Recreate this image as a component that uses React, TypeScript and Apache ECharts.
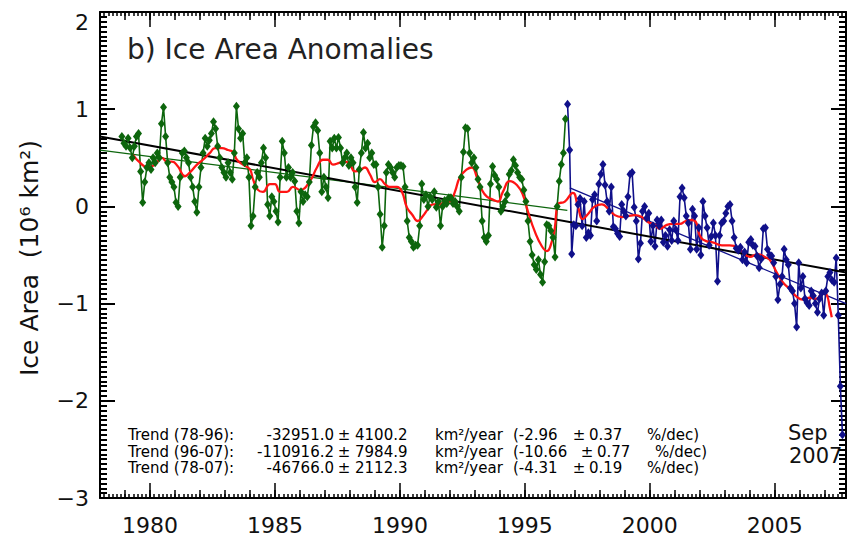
import React, { useEffect, useRef } from "react";
import * as echarts from "echarts";

// ---- data (monthly ice area anomalies, 10^6 km^2) ----
const greenStart = [1978, 11]; // Nov 1978
const green1978 = [0.72, 0.65];
const green1979 = [0.62, 0.7, 0.6, 0.5, 0.62, 0.72, 0.75, 0.36, 0.04, 0.25, 0.4, 0.45];
const green1980 = [0.38, 0.5, 0.45, 0.55, 0.5, 0.85, 1.02, 0.72, 0.45, 0.3, 0.25, 0.2];
const green1981 = [0.04, 0.0, 0.3, 0.55, 0.57, 0.5, 0.45, 0.3, 0.2, 0.05, -0.06, 0.2];
const green1982 = [0.4, 0.55, 0.7, 0.62, 0.68, 0.75, 0.87, 0.8, 0.62, 0.5, 0.4, 0.35];
const green1983 = [0.3, 0.45, 0.35, 0.28, 0.55, 1.03, 0.8, 0.7, 0.75, 0.45, 0.5, 0.3];
const green1984 = [-0.2, -0.1, 0.2, 0.35, 0.3, 0.45, 0.6, 0.5, 0.02, -0.1, 0.1, 0.05];
const green1985 = [-0.05, -0.16, 0.3, 0.67, 0.55, 0.3, 0.4, 0.3, 0.35, 0.26, -0.05, -0.17];
const green1986 = [0.15, 0.05, 0.12, 0.1, 0.25, 0.63, 0.82, 0.86, 0.78, 0.55, 0.15, 0.3];
const green1987 = [0.2, 0.09, 0.67, 0.6, 0.7, 0.6, 0.71, 0.6, 0.45, 0.5, 0.55, 0.42];
const green1988 = [0.5, 0.45, 0.2, 0.04, 0.38, 0.55, 0.76, 0.6, 0.65, 0.5, 0.55, 0.43];
const green1989 = [0.43, 0.2, -0.08, -0.42, -0.2, 0.35, 0.43, 0.4, 0.35, 0.3, 0.4, 0.42];
const green1990 = [0.42, 0.41, 0.2, -0.15, -0.32, -0.36, -0.42, -0.4, -0.4, -0.2, 0.23, 0.07];
const green1991 = [0.12, 0.0, 0.1, 0.07, 0.15, -0.01, 0.05, -0.2, 0.0, 0.06, 0.03, 0.09];
const green1992 = [0.09, 0.03, 0.05, 0.0, -0.05, 0.3, 0.56, 0.81, 0.8, 0.55, 0.45, 0.5];
const green1993 = [0.4, 0.28, 0.2, -0.15, -0.32, -0.36, -0.3, 0.23, 0.41, 0.32, 0.28, 0.2];
const green1994 = [-0.05, 0.0, 0.05, 0.12, 0.33, 0.37, 0.48, 0.42, 0.35, 0.3, 0.28, 0.17];
const green1995 = [0.05, -0.15, -0.36, -0.5, -0.6, -0.65, -0.55, -0.7, -0.78, -0.57, -0.19, -0.2];
const green1996 = [-0.25, -0.32, -0.52, 0.0, 0.26, 0.43, 0.55, 0.9];

const blueStart = [1996, 9]; // Sep 1996
const blue1996 = [1.05, 0.58, -0.49, -0.19];
const blue1997 = [-0.2, 0.02, 0.08, -0.2, 0.05, -0.32, -0.27, -0.3, 0.07, 0.12, -0.15, 0.23];
const blue1998 = [0.33, 0.43, 0.22, 0.05, -0.05, 0.2, -0.21, -0.23, -0.28, -0.31, 0.02, -0.05];
const blue1999 = [-0.1, 0.1, 0.33, 0.35, -0.01, -0.15, -0.54, -0.38, -0.05, 0.0, -0.12, -0.07];
const blue2000 = [-0.36, -0.2, -0.41, -0.14, -0.2, -0.14, -0.37, -0.3, -0.41, -0.24, -0.35, -0.15];
const blue2001 = [-0.24, -0.35, 0.1, 0.19, 0.09, -0.1, -0.17, -0.44, -0.03, -0.1, -0.44, -0.22];
const blue2002 = [-0.5, 0.05, -0.1, -0.22, -0.4, -0.31, -0.17, -0.3, -0.77, -0.3, -0.17, -0.15];
const blue2003 = [-0.07, 0.0, 0.02, -0.15, -0.32, -0.43, -0.45, -0.42, -0.55, -0.47, -0.58, -0.37];
const blue2004 = [-0.34, -0.4, -0.41, -0.51, -0.63, -0.54, -0.23, -0.22, -0.44, -0.5, -0.51, -0.58];
const blue2005 = [-0.72, -0.96, -0.8, -0.72, -0.44, -0.55, -0.6, -0.84, -0.87, -1.0, -1.24, -0.58];
const blue2006 = [-0.84, -0.72, -0.95, -0.99, -1.02, -0.87, -0.92, -1.0, -1.09, -0.95, -0.89, -1.12];
const blue2007 = [-0.87, -0.72, -0.68, -0.76, -0.78, -0.53, -1.12, -1.85, -2.35];

// smoothed (red) curve: years and values
const redYears = [
  1979.32, 1979.6, 1979.92, 1980.2, 1980.48, 1980.68, 1980.88, 1981.12, 1981.4, 1981.6, 1981.88,
  1982.12, 1982.4, 1982.6, 1982.88, 1983.12, 1983.32, 1983.48, 1983.72, 1984.0, 1984.12, 1984.32,
  1984.52, 1984.8, 1985.0, 1985.2, 1985.48, 1985.72, 1986.0, 1986.4, 1986.68, 1986.92, 1987.12,
  1987.32, 1987.6, 1987.8, 1988.0, 1988.2, 1988.4, 1988.6, 1988.8, 1989.0, 1989.2, 1989.4, 1989.6,
  1989.88, 1990.08, 1990.28, 1990.48, 1990.72, 1990.92, 1991.12, 1991.32, 1991.6, 1991.8, 1992.0,
  1992.2, 1992.4, 1992.68, 1992.88, 1993.08, 1993.28, 1993.48, 1993.72, 1993.92, 1994.12, 1994.4,
  1994.68, 1994.92, 1995.12, 1995.4, 1995.68, 1995.88, 1996.08, 1996.2, 1996.32, 1996.6, 1996.92,
  1997.12, 1997.32, 1997.52, 1997.8, 1998.08, 1998.32, 1998.6, 1998.88, 1999.12, 1999.4, 1999.68,
  1999.92, 2000.2, 2000.4, 2000.68, 2000.92, 2001.2, 2001.44, 2001.72, 2001.88, 2002.0, 2002.28,
  2002.52, 2002.88, 2003.2, 2003.52, 2003.72, 2004.0, 2004.32, 2004.6, 2004.8, 2005.08, 2005.32,
  2005.6, 2005.88, 2006.12, 2006.4, 2006.68, 2006.92, 2007.08, 2007.2, 2007.28,
];
const redValues = [
  0.53, 0.45, 0.4, 0.43, 0.5, 0.46, 0.46, 0.41, 0.31, 0.35, 0.43,
  0.48, 0.55, 0.6, 0.6, 0.58, 0.56, 0.48, 0.43, 0.38, 0.28, 0.17,
  0.15, 0.23, 0.23, 0.15, 0.15, 0.2, 0.17, 0.26, 0.4, 0.48, 0.48,
  0.43, 0.45, 0.46, 0.43, 0.36, 0.37, 0.4, 0.33, 0.25, 0.28, 0.23, 0.2,
  0.2, 0.15, -0.01, -0.08, -0.15, -0.1, -0.03, 0.02, 0.02, 0.05, 0.05,
  0.15, 0.3, 0.38, 0.4, 0.3, 0.17, 0.1, 0.07, 0.05, 0.15, 0.26,
  0.22, 0.12, -0.05, -0.26, -0.41, -0.46, -0.36, -0.22, 0.02, 0.05, 0.14,
  0.0, -0.13, -0.08, 0.0, 0.02, -0.02, -0.09, -0.11, -0.1, -0.09, -0.11,
  -0.16, -0.19, -0.23, -0.19, -0.18, -0.18, -0.15, -0.14, -0.18, -0.3, -0.36,
  -0.37, -0.4, -0.4, -0.42, -0.47, -0.52, -0.49, -0.52, -0.55, -0.68, -0.78,
  -0.85, -0.93, -0.96, -0.94, -0.95, -0.88, -0.91, -1.04, -1.14,
];

// linear trends: [x0, y0, x1, y1]
const trend7896 = [1978.0, 0.58, 1996.7, -0.04];
const trend9607 = [1996.8, 0.19, 2007.85, -1.0];
const trend7807 = [1978.0, 0.72, 2007.85, -0.68];

const xMajorTicks = [1980, 1985, 1990, 1995, 2000, 2005];
const yMin = -3;
const yMax = 2;
const xMin = 1978;
const xMax = 2007.85;

const trendLines = [
  ["Trend (78-96):", "-32951.0", "4100.2", "(-2.96", "0.37"],
  ["Trend (96-07):", "-110916.2", "7984.9", "(-10.66", "0.77"],
  ["Trend (78-07):", "-46766.0", "2112.3", "(-4.31", "0.19"],
];

const FONT = "DejaVu Sans";
const GREEN = "#0d660d";
const BLUE = "#10108a";
const RED = "#ff1414";

function monthly(start: number[], values: number[]) {
  return values.map((v, i) => [start[0] + (start[1] - 1 + i + 0.5) / 12, v]);
}

const greenValues = [
  ...green1978, ...green1979, ...green1980, ...green1981, ...green1982, ...green1983,
  ...green1984, ...green1985, ...green1986, ...green1987, ...green1988, ...green1989,
  ...green1990, ...green1991, ...green1992, ...green1993, ...green1994, ...green1995, ...green1996,
];
const blueValues = [
  ...blue1996, ...blue1997, ...blue1998, ...blue1999, ...blue2000, ...blue2001,
  ...blue2002, ...blue2003, ...blue2004, ...blue2005, ...blue2006, ...blue2007,
];

export default function App() {
  const ref = useRef<HTMLDivElement>(null);
  useEffect(() => {
    if (!ref.current) return;
    const chart = echarts.init(ref.current, undefined, { renderer: "svg" });

    const years: number[] = [];
    for (let y = 1978; y <= 2007; y++) years.push(y);
    const bimonth: number[] = [];
    for (let k = 0; k <= 29 * 6 + 5; k++) {
      const v = 1978 + k / 6;
      if (v <= xMax) bimonth.push(+v.toFixed(4));
    }

    const mkX = (position: string, values: number[], len: number, labels: boolean, line: boolean) => ({
      type: "value",
      min: xMin,
      max: xMax,
      position,
      axisLine: { show: line, onZero: false, lineStyle: { color: "#000", width: 2 } },
      axisTick: { show: true, inside: true, length: len, customValues: values, lineStyle: { color: "#000", width: 1.5 } },
      axisLabel: labels
        ? { show: true, customValues: values, fontSize: 22, fontFamily: FONT, color: "#111", margin: 16, formatter: (v: number) => String(v) }
        : { show: false },
      splitLine: { show: false },
    });

    const mkY = (position: string, labels: boolean) => ({
      type: "value",
      min: yMin,
      max: yMax,
      interval: 1,
      position,
      axisLine: { show: true, onZero: false, lineStyle: { color: "#000", width: 2 } },
      axisTick: { show: true, inside: true, length: 15, lineStyle: { color: "#000", width: 2 } },
      minorTick: { show: true, splitNumber: 20, length: 7, lineStyle: { color: "#000", width: 2 } },
      axisLabel: labels
        ? {
            show: true,
            fontSize: 22,
            fontFamily: FONT,
            color: "#111",
            margin: 11,
            formatter: (v: number) => (v === yMax ? "{t|2}" : v < 0 ? "\u2212" + Math.abs(v) : String(v)),
            rich: { t: { fontSize: 22, fontFamily: FONT, color: "#111", padding: [20, 0, 0, 0] } },
          }
        : { show: false },
      splitLine: { show: false },
      minorSplitLine: { show: false },
    });

    const graphics: any[] = [
      {
        type: "text",
        x: 127,
        y: 49,
        style: { text: "b) Ice Area Anomalies", fontSize: 28, fontFamily: FONT, fill: "#222", align: "left", verticalAlign: "middle" },
      },
      {
        type: "text",
        x: 29,
        y: 258,
        rotation: Math.PI / 2,
        style: { text: "Ice Area  (10\u2076 km\u00b2)", fontSize: 25, fontFamily: FONT, fill: "#111", align: "center", verticalAlign: "middle" },
      },
      {
        type: "text",
        x: 788,
        y: 433,
        style: { text: "Sep", fontSize: 21, fontFamily: FONT, fill: "#111", align: "left", verticalAlign: "middle" },
      },
      {
        type: "text",
        x: 789,
        y: 456,
        style: { text: "2007", fontSize: 21, fontFamily: FONT, fill: "#111", align: "left", verticalAlign: "middle" },
      },
    ];
    const tf = { fontSize: 15, lineHeight: 15, fontFamily: FONT, fill: "#000", verticalAlign: "middle" };
    trendLines.forEach((row, i) => {
      const y = 435 + i * 16.5;
      const wide = row[3].length > 6 ? 8 : 0;
      graphics.push(
        { type: "text", x: 128, y, style: { ...tf, text: row[0], align: "left" } },
        { type: "text", x: 334, y, style: { ...tf, text: row[1], align: "right" } },
        { type: "text", x: 344, y, style: { ...tf, text: "\u00b1", align: "center" } },
        { type: "text", x: 355, y, style: { ...tf, text: row[2], align: "left" } },
        { type: "text", x: 435, y, style: { ...tf, text: "km\u00b2/year", align: "left" } },
        { type: "text", x: 513, y, style: { ...tf, text: row[3], align: "left" } },
        { type: "text", x: 579 + wide, y, style: { ...tf, text: "\u00b1", align: "center" } },
        { type: "text", x: 589 + wide, y, style: { ...tf, text: row[4], align: "left" } },
        { type: "text", x: 647 + wide, y, style: { ...tf, text: "%/dec)", align: "left" } }
      );
    });

    const trendSeries = (t: number[], color: string, width: number) => ({
      type: "line",
      data: [
        [t[0], t[1]],
        [t[2], t[3]],
      ],
      symbol: "none",
      lineStyle: { color, width },
      silent: true,
    });

    chart.setOption({
      animation: false,
      grid: { left: 100, right: 2, top: 12, bottom: 44, containLabel: false },
      xAxis: [
        mkX("bottom", xMajorTicks, 15, true, true),
        mkX("bottom", years, 8, false, false),
        mkX("bottom", bimonth, 4, false, false),
        mkX("top", xMajorTicks, 15, false, true),
        mkX("top", years, 8, false, false),
        mkX("top", bimonth, 4, false, false),
      ],
      yAxis: [mkY("left", true), mkY("right", false)],
      series: [
        {
          type: "line",
          data: monthly(greenStart, greenValues),
          symbol: "diamond",
          symbolSize: [7, 9],
          showAllSymbol: true,
          lineStyle: { color: GREEN, width: 1.6 },
          itemStyle: { color: GREEN },
        },
        {
          type: "line",
          data: monthly(blueStart, blueValues),
          symbol: "diamond",
          symbolSize: [7, 9],
          showAllSymbol: true,
          lineStyle: { color: BLUE, width: 1.6 },
          itemStyle: { color: BLUE },
        },
        trendSeries(trend7896, GREEN, 1.3),
        trendSeries(trend9607, BLUE, 1.3),
        trendSeries(trend7807, "#000", 2),
        {
          type: "line",
          data: redYears.map((x, i) => [x, redValues[i]]),
          symbol: "none",
          smooth: 0.5,
          lineStyle: { color: RED, width: 2.3 },
        },
      ],
      graphic: graphics,
    });
    return () => chart.dispose();
  }, []);
  return <div ref={ref} style={{ position: "fixed", left: 0, top: 0, width: 848, height: 542, background: "#fff" }} />;
}
